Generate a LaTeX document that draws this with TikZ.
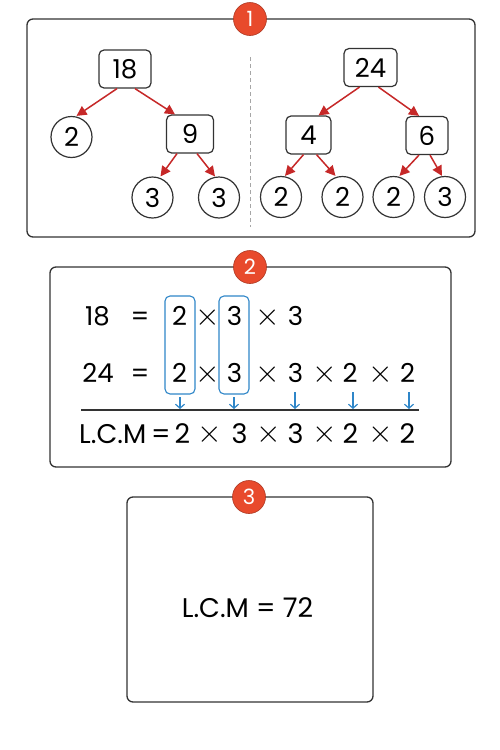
\documentclass[tikz,border=0pt]{standalone}
\usepackage{fontspec}
\usepackage{graphicx}
\setmainfont{Poppins}
\usetikzlibrary{arrows.meta}
\definecolor{badge}{HTML}{E84A2C}
\definecolor{treered}{HTML}{C62828}
\definecolor{frame}{HTML}{333333}
\definecolor{hl}{HTML}{2F86C8}
\newcommand{\mytimes}{\scalebox{1.27}{$\times$}}
\begin{document}
\begin{tikzpicture}[x=1pt,y=-1pt,
 panel/.style={draw=frame,line width=1.3pt,rounded corners=6pt},
 badgec/.style={circle,fill=badge,draw=badge!75!black,line width=0.6pt,minimum size=33pt,inner sep=0pt,text=white,font=\fontsize{21}{21}\selectfont},
 sq/.style={draw=frame,line width=1.2pt,rounded corners=5pt,inner sep=0pt,minimum height=38pt,font=\fontsize{26}{26}\selectfont},
 rnd/.style={draw=frame,line width=1.2pt,circle,inner sep=0pt,minimum size=41pt,font=\fontsize{26}{26}\selectfont},
 tarr/.style={-{Triangle[length=10pt,width=10pt]},draw=treered,line width=1.5pt},
 tok/.style={anchor=base,inner sep=0pt,font=\fontsize{26}{26}\selectfont},
 ltok/.style={anchor=base,inner sep=0pt,font=\fontsize{27}{27}\selectfont},
 xtok/.style={anchor=center,inner sep=0pt,font=\fontsize{24.88}{26}\selectfont},
 hlbox/.style={draw=hl,line width=1.1pt,rounded corners=5pt},
 barr/.style={-{Straight Barb[length=4pt,width=9pt]},draw=hl,line width=1.2pt}
]
\useasboundingbox (0,0) rectangle (500,750);
\fill[white] (0,0) rectangle (500,750);

% ---------- panel 1 ----------
\draw[panel] (27,19) rectangle (475,237);
\draw[gray!70,line width=1pt,dash pattern=on 4pt off 3pt] (250,57) -- (250,227);
\node[badgec] (b1) at (250,19) {1};

\node[sq,minimum width=52pt] (n18) at (125,69) {18};
\node[rnd] (l2) at (71.5,137) {2};
\node[sq,minimum width=47pt] (n9) at (190,134) {9};
\node[rnd] (l3a) at (152.5,197.5) {3};
\node[rnd] (l3b) at (219,197.5) {3};

\node[sq,minimum width=53pt] (n24) at (370.5,67.5) {24};
\node[sq,minimum width=45pt] (n4) at (308.5,135) {4};
\node[sq,minimum width=42pt] (n6) at (427,135.5) {6};
\node[rnd] (r2a) at (281,197) {2};
\node[rnd] (r2b) at (342.5,197) {2};
\node[rnd] (r2c) at (393.5,197) {2};
\node[rnd] (r3) at (445,197) {3};

\draw[tarr] ([xshift=-8pt]n18.south) -- ([xshift=5pt]l2.north);
\draw[tarr] ([xshift=10pt]n18.south) -- ([xshift=-15pt]n9.north);
\draw[tarr] ([xshift=-13pt]n9.south) -- ([xshift=8pt]l3a.north);
\draw[tarr] ([xshift=7pt]n9.south) -- ([xshift=-4pt]l3b.north);

\draw[tarr] ([xshift=-11pt]n24.south) -- ([xshift=10pt]n4.north);
\draw[tarr] ([xshift=8pt]n24.south) -- ([xshift=-8pt]n6.north);
\draw[tarr] ([xshift=-5pt]n4.south) -- ([xshift=4pt]r2a.north);
\draw[tarr] ([xshift=8pt]n4.south) -- ([xshift=-7pt]r2b.north);
\draw[tarr] ([xshift=-8pt]n6.south) -- ([xshift=6pt]r2c.north);
\draw[tarr] ([xshift=3pt]n6.south) -- ([xshift=-3pt]r3.north);

% ---------- panel 2 ----------
\draw[panel] (50,267) rectangle (451,467);
\node[badgec] (b2) at (250,267) {2};

\node[tok] (a1) at (97.5,325) {18};
\node[tok] (a2) at (140,325) {=};
\node[tok] (a3) at (179.5,325) {2};
\node[xtok] (a4) at (207.5,318) {\mytimes};
\node[tok] (a5) at (234.5,325) {3};
\node[xtok] (a6) at (267.5,318) {\mytimes};
\node[tok] (a7) at (295.5,325) {3};

\node[tok] (c1) at (98,382) {24};
\node[tok] (c2) at (140,382) {=};
\node[tok] (c3) at (179.5,382) {2};
\node[xtok] (c4) at (207.5,375) {\mytimes};
\node[tok] (c5) at (234.5,382) {3};
\node[xtok] (c6) at (267.5,375) {\mytimes};
\node[tok] (c7) at (295.5,382) {3};
\node[xtok] (c8) at (324.5,375) {\mytimes};
\node[tok] (c9) at (350,382) {2};
\node[xtok] (c10) at (380.5,375) {\mytimes};
\node[tok] (c11) at (407.5,382) {2};

\draw[hlbox] (165,296) rectangle (195,394);
\draw[hlbox] (219,296) rectangle (249,394);
\coordinate (h1) at (180,394);
\coordinate (h2) at (234,394);

\coordinate (s3) at (295,392);
\coordinate (s4) at (353,392);
\coordinate (s5) at (409,392);
\coordinate (e1) at (180,409);
\coordinate (e2) at (234,409);
\coordinate (e3) at (295,409);
\coordinate (e4) at (353,409);
\coordinate (e5) at (409,409);
\draw[barr] ([yshift=-3pt]h1) -- (e1);
\draw[barr] ([yshift=-3pt]h2) -- (e2);
\draw[barr] (s3) -- (e3);
\draw[barr] (s4) -- (e4);
\draw[barr] (s5) -- (e5);

\coordinate (lineL) at (81,410);
\coordinate (lineR) at (419,410);
\draw[frame,line width=1.1pt] (lineL) -- (lineR);

\node[ltok,anchor=base west] (m0) at (79,443) {L.C.M};
\node[ltok] (m1) at (161,443) {=};
\node[ltok] (m2) at (182.5,443) {2};
\node[xtok] (m3) at (210,435) {\mytimes};
\node[ltok] (m4) at (239.5,443) {3};
\node[xtok] (m5) at (268.5,435) {\mytimes};
\node[ltok] (m6) at (295.5,443) {3};
\node[xtok] (m7) at (325,435) {\mytimes};
\node[ltok] (m8) at (350.5,443) {2};
\node[xtok] (m9) at (380.5,435) {\mytimes};
\node[ltok] (m10) at (407.5,443) {2};

% ---------- panel 3 ----------
\draw[panel] (127,497) rectangle (373,702);
\node[badgec] (b3) at (249,497) {3};
\node[ltok] (res) at (247.5,617) {L.C.M = 72};
\end{tikzpicture}
\end{document}
